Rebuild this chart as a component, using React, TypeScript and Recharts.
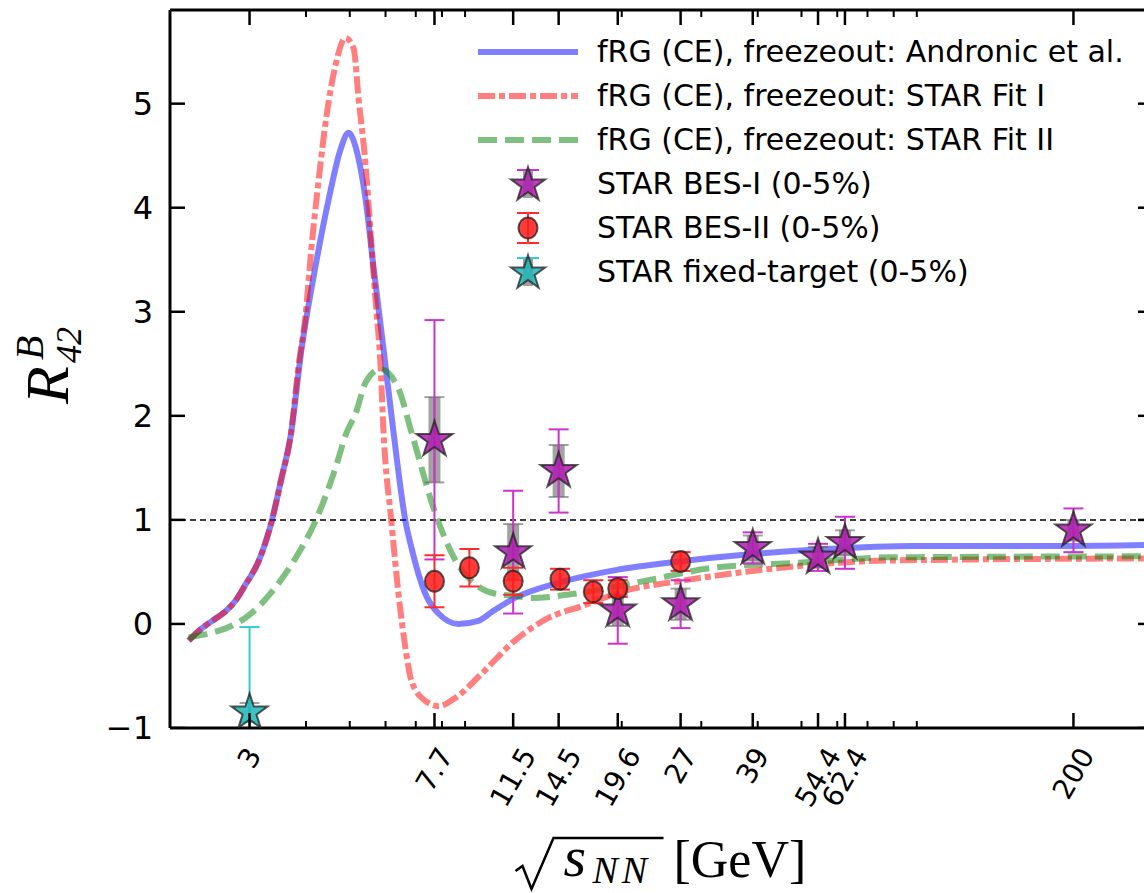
import React from "react";
import {
  ComposedChart,
  Line,
  Scatter,
  XAxis,
  YAxis,
  ReferenceLine,
  ErrorBar,
  Legend,
} from "recharts";

// ------------------------------------------------------------
// R42 baryon kurtosis ratio vs collision energy (log x)
// values
// ------------------------------------------------------------

const MAJOR_TICKS = [3, 7.7, 11.5, 14.5, 19.6, 27, 39, 54.4, 62.4, 200];
const MAJOR_LABELS = ["3", "7.7", "11.5", "14.5", "19.6", "27", "39", "54.4", "62.4", "200"];
const MINOR_TICKS = [4, 5, 6, 7, 8, 9, 20, 30, 40, 50, 60, 70, 80, 90];
const Y_TICKS = [-1, 0, 1, 2, 3, 4, 5];
const Y_LABELS = ["\u22121", "0", "1", "2", "3", "4", "5"];

// fRG (CE), freezeout: Andronic et al.
const andronicE = [2.2, 2.34, 2.52, 2.66, 2.8, 2.94, 3.14, 3.36, 3.53, 3.7, 3.91, 4.2, 4.49, 4.77, 4.97, 5.17, 5.42, 5.64, 5.94, 6.25, 6.64, 6.85, 7.35, 7.86, 8.7, 9.63, 10.35, 11.6, 14.6, 19.5, 26.7, 38.3, 56.2, 88.4, 194, 300];
const andronicR = [-0.16, -0.05, 0.05, 0.125, 0.23, 0.38, 0.6, 0.99, 1.4, 1.81, 2.64, 3.44, 4.08, 4.56, 4.72, 4.56, 4.08, 3.44, 2.64, 1.84, 0.99, 0.73, 0.29, 0.1, 0.0, 0.03, 0.12, 0.25, 0.4, 0.52, 0.6, 0.67, 0.72, 0.75, 0.75, 0.76];

// fRG (CE), freezeout: STAR Fit I
const fit1E = [2.2, 2.34, 2.52, 2.66, 2.8, 2.94, 3.14, 3.36, 3.53, 3.7, 3.85, 3.99, 4.11, 4.26, 4.44, 4.65, 4.89, 5.1, 5.23, 5.42, 5.56, 5.7, 5.85, 5.94, 6.18, 6.41, 6.64, 6.85, 7.35, 7.86, 8.57, 9.78, 11.6, 13.8, 16.3, 20.4, 26.7, 35.9, 50.2, 78.7, 300];
const fit1R = [-0.16, -0.05, 0.05, 0.125, 0.23, 0.38, 0.6, 0.99, 1.4, 1.81, 2.48, 2.96, 3.6, 4.24, 4.88, 5.37, 5.63, 5.53, 5.05, 4.41, 3.76, 3.12, 2.48, 1.84, 0.99, 0.29, -0.23, -0.55, -0.74, -0.79, -0.71, -0.48, -0.16, 0.06, 0.17, 0.32, 0.41, 0.49, 0.56, 0.61, 0.63];

// fRG (CE), freezeout: STAR Fit II
const fit2E = [2.2, 2.94, 3.42, 3.79, 4.2, 4.65, 4.92, 5.15, 5.42, 5.85, 6.41, 6.85, 7.74, 8.57, 9.49, 10.5, 11.6, 12.6, 16.3, 22.9, 31.9, 50.2, 78.7, 300];
const fit2R = [-0.13, 0.06, 0.35, 0.63, 0.99, 1.5, 1.84, 2.02, 2.32, 2.45, 2.26, 1.84, 1.06, 0.61, 0.38, 0.29, 0.27, 0.25, 0.3, 0.42, 0.54, 0.59, 0.64, 0.65];

// STAR BES-I (0-5%)
const bes1E = [7.7, 11.5, 14.5, 19.6, 27, 39, 54.4, 62.4, 200];
const bes1R = [1.77, 0.69, 1.47, 0.13, 0.19, 0.73, 0.64, 0.78, 0.9];
const bes1Stat = [1.15, 0.59, 0.4, 0.32, 0.23, 0.15, 0.13, 0.25, 0.21];
const bes1Sys = [0.41, 0.27, 0.25, 0.15, 0.15, 0.12, 0.1, 0.12, 0.1];

// STAR BES-II (0-5%)
const bes2E = [7.7, 9.2, 11.5, 14.6, 17.3, 19.6, 27];
const bes2R = [0.41, 0.54, 0.41, 0.43, 0.31, 0.34, 0.6];
const bes2Stat = [0.25, 0.18, 0.13, 0.1, 0.11, 0.08, 0.09];

// STAR fixed-target (0-5%)
const fxtE = [3.0];
const fxtR = [-0.85];
const fxtStat = [0.82];
const fxtSys = [0.09];

const LEGEND_LABELS = [
  "fRG (CE), freezeout: Andronic et al.",
  "fRG (CE), freezeout: STAR Fit I",
  "fRG (CE), freezeout: STAR Fit II",
  "STAR BES-I (0-5%)",
  "STAR BES-II (0-5%)",
  "STAR fixed-target (0-5%)",
];

const toLine = (e: number[], r: number[]) => e.map((x, i) => ({ x, y: r[i] }));
const toPoints = (e: number[], r: number[], stat: number[], sys?: number[]) =>
  e.map((x, i) => ({ x, y: r[i], stat: stat[i], sys: sys ? sys[i] : 0 }));

const andronicData = toLine(andronicE, andronicR);
const fit1Data = toLine(fit1E, fit1R);
const fit2Data = toLine(fit2E, fit2R);
const bes1Data = toPoints(bes1E, bes1R, bes1Stat, bes1Sys);
const bes2Data = toPoints(bes2E, bes2R, bes2Stat);
const fxtData = toPoints(fxtE, fxtR, fxtStat, fxtSys);

// axes frame
const X_MIN = 2;
const X_MAX = 300;
const Y_MIN = -1;
const Y_MAX = 5.9;
const CHART_W = 1170;
const CHART_H = 893;
const MARGIN = { top: 10, right: 17, bottom: 0, left: 0 };
const Y_AXIS_W = 170;
const X_AXIS_H = 165;
const PLOT_W = CHART_W - MARGIN.right - Y_AXIS_W;
const PLOT_H = CHART_H - MARGIN.top - X_AXIS_H;

const ALL_X_TICKS = [...MAJOR_TICKS, ...MINOR_TICKS].sort((a, b) => a - b);

// tick marks drawn inwards from the four spines (matplotlib "in" style)
const bottomMarks = ALL_X_TICKS.map((t) => ({ x: t, y: Y_MIN, dir: "up", major: MAJOR_TICKS.includes(t) }));
const topMarks = ALL_X_TICKS.map((t) => ({ x: t, y: Y_MAX, dir: "down", major: MAJOR_TICKS.includes(t) }));
const leftMarks = Y_TICKS.map((v) => ({ x: X_MIN, y: v, dir: "right", major: true }));
const rightMarks = Y_TICKS.map((v) => ({ x: X_MAX, y: v, dir: "left", major: true }));

const BLUE = "#0000ff";
const RED = "#ff0000";
const GREEN = "#008000";
const SANS = "DejaVu Sans, sans-serif";
const SERIF = "Liberation Serif, DejaVu Serif, serif";

function TickMark(props: any) {
  const { cx, cy } = props;
  const dir = props.dir ?? props.payload?.dir;
  const major = props.major ?? props.payload?.major;
  if (cx == null || cy == null) return <g />;
  const len = major ? 15 : 7;
  let x2 = cx;
  let y2 = cy;
  if (dir === "up") y2 = cy - len;
  if (dir === "down") y2 = cy + len;
  if (dir === "right") x2 = cx + len;
  if (dir === "left") x2 = cx - len;
  return <line x1={cx} y1={cy} x2={x2} y2={y2} stroke="#000" strokeWidth={major ? 2.5 : 2} />;
}

function starPoints(cx: number, cy: number, R: number) {
  const r = R * 0.382;
  const pts: string[] = [];
  for (let i = 0; i < 10; i++) {
    const rad = i % 2 === 0 ? R : r;
    const a = -Math.PI / 2 + (i * Math.PI) / 5;
    pts.push(`${cx + rad * Math.cos(a)},${cy + rad * Math.sin(a)}`);
  }
  return pts.join(" ");
}

function Star({ cx, cy, fill, R = 19 }: any) {
  if (cx == null || cy == null) return null;
  return (
    <polygon
      points={starPoints(cx, cy, R)}
      fill={fill}
      fillOpacity={0.85}
      stroke="#222"
      strokeOpacity={0.75}
      strokeWidth={2}
    />
  );
}

function Dot({ cx, cy }: any) {
  if (cx == null || cy == null) return null;
  return (
    <ellipse
      cx={cx}
      cy={cy}
      rx={9.5}
      ry={10.5}
      fill="#ff1a1a"
      fillOpacity={0.85}
      stroke="#222"
      strokeOpacity={0.75}
      strokeWidth={2}
    />
  );
}

function BottomTickLabel(props: any) {
  const { x, y, payload } = props;
  const idx = MAJOR_TICKS.indexOf(payload.value);
  if (idx < 0) return <g />;
  const label = MAJOR_LABELS[idx];
  const fs = 28;
  const w = label.split("").reduce((s, c) => s + (c === "." ? 0.318 : 0.636), 0) * fs;
  const vert = w * Math.sin(Math.PI / 3) + 0.75 * fs * 0.5;
  const cy = y + 17 + vert / 2;
  return (
    <text
      transform={`translate(${x},${cy}) rotate(-60)`}
      textAnchor="middle"
      dominantBaseline="central"
      fontSize={fs}
      fontFamily={SANS}
      fill="#000"
    >
      {label}
    </text>
  );
}

function LeftTickLabel(props: any) {
  const { x, y, payload } = props;
  const idx = Y_TICKS.indexOf(payload.value);
  return (
    <text x={x - 17} y={y} textAnchor="end" dominantBaseline="central" fontSize={32} fontFamily={SANS} fill="#000">
      {Y_LABELS[idx]}
    </text>
  );
}

function XTitle(props: any) {
  const vb = props.viewBox || { x: 170, y: 728, width: PLOT_W, height: X_AXIS_H };
  const cx = vb.x + vb.width / 2;
  const x0 = cx - 146;
  const base = vb.y + 149;
  return (
    <g fill="#000">
      <path
        d={`M ${x0} ${base - 6} L ${x0 + 7} ${base - 11} L ${x0 + 16} ${base + 12} L ${x0 + 38} ${base - 39} L ${x0 + 148} ${base - 39}`}
        fill="none"
        stroke="#000"
        strokeWidth={2.5}
      />
      <text x={x0 + 48} y={base - 1} fontSize={58} fontStyle="italic" fontFamily={SERIF}>
        s
      </text>
      <text x={x0 + 77} y={base + 6} fontSize={38} fontStyle="italic" fontFamily={SERIF} letterSpacing={4}>
        NN
      </text>
      <text x={x0 + 158} y={base} fontSize={52} fontFamily={SERIF}>
        [GeV]
      </text>
    </g>
  );
}

function YTitle() {
  return (
    <g transform="translate(48,366) rotate(-90)" fontFamily={SERIF} fontStyle="italic" fill="#000">
      <text x={-38} y={20} fontSize={62}>R</text>
      <text x={6} y={-5} fontSize={40}>B</text>
      <text x={3} y={33} fontSize={36}>42</text>
    </g>
  );
}

function LegendIcon({ index }: { index: number }) {
  const c = 58;
  const m = 22;
  if (index === 0) return <line x1={8} x2={108} y1={m} y2={m} stroke={BLUE} strokeOpacity={0.5} strokeWidth={6} />;
  if (index === 1)
    return <line x1={8} x2={108} y1={m} y2={m} stroke={RED} strokeOpacity={0.5} strokeWidth={6} strokeDasharray="17 4 6 4" />;
  if (index === 2)
    return <line x1={8} x2={108} y1={m} y2={m} stroke={GREEN} strokeOpacity={0.5} strokeWidth={6} strokeDasharray="19 8" />;
  if (index === 4)
    return (
      <g>
        <line x1={c} x2={c} y1={m - 15} y2={m + 15} stroke="#ff2a2a" strokeWidth={2} />
        <line x1={c - 11} x2={c + 11} y1={m - 15} y2={m - 15} stroke="#ff2a2a" strokeWidth={2} />
        <line x1={c - 11} x2={c + 11} y1={m + 15} y2={m + 15} stroke="#ff2a2a" strokeWidth={2} />
        <Dot cx={c} cy={m} />
      </g>
    );
  const color = index === 3 ? "#cc33cc" : "#33cccc";
  const fill = index === 3 ? "#b01cb0" : "#1fb5b5";
  return (
    <g>
      <line x1={c} x2={c} y1={m - 14} y2={m + 14} stroke="#777" strokeOpacity={0.7} strokeWidth={10} />
      <line x1={c - 11} x2={c + 11} y1={m - 14} y2={m - 14} stroke={color} strokeWidth={2} />
      <Star cx={c} cy={m + 1} fill={fill} R={18} />
    </g>
  );
}

function LegendBox() {
  return (
    <div style={{ fontFamily: SANS, fontSize: 30, color: "#000", lineHeight: "44px" }}>
      {LEGEND_LABELS.map((label, i) => (
        <div key={label} style={{ display: "flex", alignItems: "center", height: 44, whiteSpace: "nowrap" }}>
          <svg width={110} height={44} style={{ display: "block", flex: "none" }}>
            <LegendIcon index={i} />
          </svg>
          <span style={{ marginLeft: 17 }}>{label}</span>
        </div>
      ))}
    </div>
  );
}

export default function App() {
  return (
    <div
      style={{
        position: "absolute",
        left: 0,
        top: 0,
        width: 1144,
        height: 893,
        overflow: "hidden",
        background: "#fff",
      }}
    >
      <ComposedChart width={CHART_W} height={CHART_H} margin={MARGIN}>
        <defs>
          <clipPath id="plotClip">
            <rect x={Y_AXIS_W} y={MARGIN.top} width={PLOT_W} height={PLOT_H} />
          </clipPath>
        </defs>
        <XAxis
          dataKey="x"
          type="number"
          scale="log"
          domain={[X_MIN, X_MAX]}
          allowDataOverflow
          ticks={ALL_X_TICKS}
          interval={0}
          tickSize={0}
          tickMargin={0}
          tickLine={false}
          axisLine={{ stroke: "#000", strokeWidth: 3 }}
          height={X_AXIS_H}
          tick={(p: any) => <BottomTickLabel {...p} />}
          label={(p: any) => <XTitle {...p} />}
        />
        <YAxis
          dataKey="y"
          type="number"
          domain={[Y_MIN, Y_MAX]}
          allowDataOverflow
          ticks={Y_TICKS}
          interval={0}
          tickSize={0}
          tickMargin={0}
          tickLine={false}
          axisLine={{ stroke: "#000", strokeWidth: 3 }}
          width={Y_AXIS_W}
          tick={(p: any) => <LeftTickLabel {...p} />}
          label={() => <YTitle />}
        />
        {/* top and right spines */}
        <ReferenceLine y={Y_MAX} stroke="#000" strokeWidth={3} ifOverflow="visible" />
        <ReferenceLine x={X_MAX} stroke="#000" strokeWidth={3} ifOverflow="visible" />
        <ReferenceLine y={1} stroke="#000" strokeWidth={1.5} strokeDasharray="6 4" />
        <Line
          data={andronicData}
          dataKey="y"
          type="monotone"
          stroke={BLUE}
          strokeOpacity={0.5}
          strokeWidth={6}
          dot={false}
          activeDot={false}
          isAnimationActive={false}
        />
        <Line
          data={fit1Data}
          dataKey="y"
          type="monotone"
          stroke={RED}
          strokeOpacity={0.5}
          strokeWidth={6}
          strokeDasharray="17 4 6 4"
          dot={false}
          activeDot={false}
          isAnimationActive={false}
        />
        <Line
          data={fit2Data}
          dataKey="y"
          type="monotone"
          stroke={GREEN}
          strokeOpacity={0.5}
          strokeWidth={6}
          strokeDasharray="19 8"
          dot={false}
          activeDot={false}
          isAnimationActive={false}
        />
        <Scatter
          data={bes1Data}
          dataKey="y"
          isAnimationActive={false}
          shape={(p: any) => <Star cx={p.cx} cy={p.cy} fill="#b01cb0" />}
        >
          <ErrorBar dataKey="sys" direction="y" width={0} stroke="#666" strokeOpacity={0.6} strokeWidth={12} isAnimationActive={false} />
          <ErrorBar dataKey="sys" direction="y" width={10} stroke="#666" strokeOpacity={0.6} strokeWidth={2} isAnimationActive={false} />
          <ErrorBar dataKey="stat" direction="y" width={10} stroke="#cc33cc" strokeWidth={2} isAnimationActive={false} />
        </Scatter>
        <Scatter data={bes2Data} dataKey="y" isAnimationActive={false} shape={(p: any) => <Dot cx={p.cx} cy={p.cy} />}>
          <ErrorBar dataKey="stat" direction="y" width={10} stroke="#ff2a2a" strokeWidth={2} isAnimationActive={false} />
        </Scatter>
        <Scatter
          data={fxtData}
          dataKey="y"
          isAnimationActive={false}
          shape={(p: any) => <Star cx={p.cx} cy={p.cy} fill="#1fb5b5" />}
        >
          <ErrorBar dataKey="sys" direction="y" width={10} stroke="#666" strokeOpacity={0.6} strokeWidth={2} clipPath="url(#plotClip)" isAnimationActive={false} />
          <ErrorBar dataKey="stat" direction="y" width={10} stroke="#33cccc" strokeWidth={2} clipPath="url(#plotClip)" isAnimationActive={false} />
        </Scatter>
        {/* inward tick marks on all four spines */}
        <Scatter data={bottomMarks} dataKey="y" isAnimationActive={false} shape={(p: any) => <TickMark {...p} />} />
        <Scatter data={topMarks} dataKey="y" isAnimationActive={false} shape={(p: any) => <TickMark {...p} />} />
        <Scatter data={leftMarks} dataKey="y" isAnimationActive={false} shape={(p: any) => <TickMark {...p} />} />
        <Scatter data={rightMarks} dataKey="y" isAnimationActive={false} shape={(p: any) => <TickMark {...p} />} />
        <Legend
          layout="horizontal"
          verticalAlign="middle"
          align="center"
          content={() => <LegendBox />}
          wrapperStyle={{ top: 30, left: 470, width: 680, height: 264 }}
        />
      </ComposedChart>
    </div>
  );
}
